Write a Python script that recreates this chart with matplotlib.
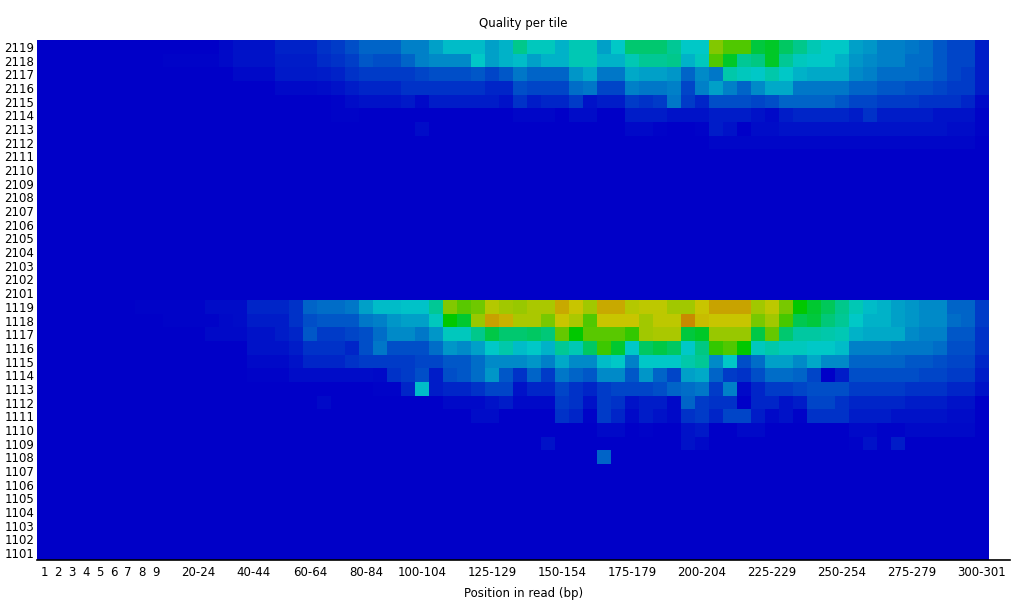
import numpy as np
import matplotlib
matplotlib.use("Agg")
import matplotlib.pyplot as plt
from matplotlib.colors import LinearSegmentedColormap

# column groups along the read (FastQC style bins)
groups = [str(i) for i in range(1, 10)] + [f"{s}-{s + 4}" for s in range(10, 300, 5)] + ["300-301"]
shown_labels = ["1", "2", "3", "4", "5", "6", "7", "8", "9", "20-24", "40-44", "60-64",
                "80-84", "100-104", "125-129", "150-154", "175-179", "200-204",
                "225-229", "250-254", "275-279", "300-301"]

# tiles, top to bottom
tiles = list(range(2119, 2100, -1)) + list(range(1119, 1100, -1))

# quality deviation per tile (0 = none), one value per column group
t2119 = [0, 0, 0, 0, 0, 0, 0, 0, 0, 0.3, 0.3, 0.3, 0.3, 1, 2, 2, 2,
         3.5, 3.5, 3.5, 5, 6, 8, 10, 10, 10, 13, 13, 16, 19, 19, 19, 16, 18,
         26, 21, 21, 18, 22, 22, 16, 20, 29, 29, 29, 25, 20, 20, 53, 48, 48,
         34, 36, 30, 26, 22, 20, 20, 16, 15, 13, 13, 12, 11, 9, 7, 7, 3]
t2118 = [0, 0, 0, 0, 0, 0, 0, 0, 0, 0.5, 0.5, 0.5, 0.5, 1, 2, 2, 2,
         3, 3, 3, 4.5, 5, 6.5, 9, 8, 8, 10, 13, 14, 14, 14, 20, 16, 18,
         19, 16, 18, 18, 22, 22, 18, 18, 22, 25, 25, 26, 18, 21, 48, 36, 25,
         27, 36, 25, 21, 20, 20, 18, 15, 14, 13, 13, 11, 11, 9, 7, 7, 3]
t2117 = [0, 0, 0, 0, 0, 0, 0, 0, 0, 0, 0, 0, 0, 0, 1, 1, 1,
         2.5, 2.5, 2.5, 3, 3.5, 5, 6, 6, 6, 6, 7, 8, 8, 8, 9, 7, 9,
         12, 10, 10, 10, 15, 17, 12, 12, 17, 16, 16, 15, 10, 14, 12, 23, 21,
         20, 23, 20, 18, 17, 17, 17, 14, 13, 11, 11, 11, 10, 9, 7, 6, 3]
t2116 = [0, 0, 0, 0, 0, 0, 0, 0, 0, 0, 0, 0, 0, 0, 0, 0, 0,
         1, 1, 1, 1.5, 2, 3, 4, 4, 4, 5, 5, 5, 5, 5, 5, 4, 4,
         8, 7, 7, 7, 11, 12, 7, 7, 13, 12, 12, 13, 7, 13, 16, 13, 10,
         14, 17, 17, 12, 12, 12, 12, 10, 10, 9, 9, 8, 8, 7, 6, 6, 3]
t2115 = [0, 0, 0, 0, 0, 0, 0, 0, 0, 0, 0, 0, 0, 0, 0, 0, 0,
         0, 0, 0, 0, 0.5, 1.5, 2, 2, 2, 2.5, 1, 3, 3, 3, 3, 3, 2,
         5, 3, 4, 4, 6, 2, 3, 3, 6, 5, 6, 12, 6, 4, 8, 8, 8,
         7, 8, 10, 10, 10, 10, 9, 7, 7, 6, 6, 6, 5, 5, 5, 4, 1]
t2114 = [0, 0, 0, 0, 0, 0, 0, 0, 0, 0, 0, 0, 0, 0, 0, 0, 0,
         0, 0, 0, 0, 0.5, 0.5, 0, 0, 0, 0, 0, 0, 0, 0, 0, 0, 0,
         0.8, 0.8, 0.8, 0, 1.5, 1.5, 0, 0, 3, 3, 3, 2, 2, 2, 3, 3, 3,
         2, 1, 3, 4, 4, 4, 4, 3, 5, 3, 3, 3, 3, 2, 2, 2, 0.5]
t2113 = [0, 0, 0, 0, 0, 0, 0, 0, 0, 0, 0, 0, 0, 0, 0, 0, 0,
         0, 0, 0, 0, 0, 0, 0, 0, 0, 0, 1.5, 0, 0, 0, 0, 0, 0,
         0, 0, 0, 0, 0, 0, 0, 0, 1, 1, 0.5, 0, 0, 0.5, 3, 2, 0,
         1.5, 1.5, 2, 2, 2, 2, 2, 2, 2, 2, 2, 2, 2, 2, 1.5, 1.5, 0.5]
t2112 = [0] * 48 + [0.8] * 19 + [0.3]

t1119 = [0, 0, 0, 0, 0, 0, 0, 0.5, 0.5, 0.5, 0.5, 0.5, 1.5, 1.5, 1.5, 4, 4,
         4, 5, 10, 11, 11, 12, 16, 19, 19, 19.5, 19.5, 25, 53, 49, 51, 58, 56,
         55, 57, 57, 63, 60, 56, 63, 63, 58, 59, 59, 56, 56, 60, 63.5, 63.5, 63.5,
         56, 59, 52, 40, 35, 31, 26, 22, 19, 18, 16, 15, 14, 14, 10, 10, 6]
t1118 = [0, 0, 0, 0, 0, 0, 0, 0, 0, 0.5, 0.5, 0.5, 0.5, 1, 1.5, 3, 3,
         3, 5, 8, 9, 9, 9, 12, 13, 15, 16, 16, 21, 40, 35, 55, 64, 62,
         57, 57, 52, 60, 57, 48, 60, 60, 60, 56, 59, 59, 66, 61, 60, 60, 60,
         52, 56, 47, 32, 34, 28, 25, 20, 18, 18, 16, 15, 14, 14, 11, 10, 6]
t1117 = [0, 0, 0, 0, 0, 0, 0, 0, 0, 0, 0, 0, 1, 1, 1, 2, 2,
         3, 4, 9, 6, 6, 7, 8, 11, 14, 14, 12, 15, 21, 21, 26, 33, 29,
         29, 30, 28, 50, 40, 49, 49, 49, 45, 56, 57, 57, 34, 36, 55, 55, 55,
         33, 50, 29, 24, 24, 23, 22, 18, 17, 17, 17, 14, 13, 13, 9, 9, 5]
t1116 = [0, 0, 0, 0, 0, 0, 0, 0, 0, 0, 0, 0, 0, 0, 0, 2, 2,
         2, 3, 5, 5, 5, 4, 8, 12, 8, 8, 8, 11, 15, 14, 16, 20, 23,
         19, 20, 18, 25, 22, 30, 46, 35, 20, 30, 33, 30, 20, 27, 45, 48, 40,
         21, 23, 21, 21, 20, 20, 19, 13, 13, 13, 12, 12, 12, 11, 8, 8, 5]
t1115 = [0, 0, 0, 0, 0, 0, 0, 0, 0, 0, 0, 0, 0, 0, 0, 1, 1,
         1, 2, 4, 4, 4, 5, 6, 6, 6, 6, 7, 7, 9, 9, 11, 14, 14,
         14, 15, 13, 17, 14, 14, 19, 20, 13, 20, 20, 20, 23, 25, 14, 20, 8,
         11, 16, 16, 14, 17, 14, 14, 10, 10, 10, 10, 9, 9, 8, 7, 7, 4]
t1114 = [0, 0, 0, 0, 0, 0, 0, 0, 0, 0, 0, 0, 0, 0, 0, 0.5, 0.5,
         0.5, 1.5, 1.5, 1.5, 1.5, 1.5, 1.5, 1, 5, 6, 8, 3, 8, 9, 11, 15, 9,
         5, 10, 6, 12, 10, 9, 14, 14, 9, 15, 10, 7, 16, 17, 10, 6, 5,
         8, 11, 11, 10, 7, 0, 3, 8, 8, 8, 8, 8, 7, 7, 6, 6, 3]
t1113 = [0, 0, 0, 0, 0, 0, 0, 0, 0, 0, 0, 0, 0, 0, 0, 0, 0,
         0, 0, 0, 0, 0, 0, 0, 0.5, 0.5, 4, 19, 3, 4, 4, 5, 7, 7,
         2, 4, 4, 7, 5, 4, 6, 7, 7, 7, 8, 10, 11, 12, 6, 13, 1,
         4, 6, 6, 7, 8, 8, 8, 6, 6, 6, 6, 5, 5, 5, 4, 4, 2]
t1112 = [0, 0, 0, 0, 0, 0, 0, 0, 0, 0, 0, 0, 0, 0, 0, 0, 0,
         0, 0, 0, 1, 0, 0, 0, 0, 0, 0, 0, 0, 1, 1, 1, 2, 3,
         1, 1, 1, 6, 5, 2, 6, 5, 2, 3, 3, 1, 10, 6, 5, 5, 0,
         4, 4, 2, 3, 7, 7, 5, 4, 4, 4, 4, 3, 3, 3, 2, 2, 0]
t1111 = [0, 0, 0, 0, 0, 0, 0, 0, 0, 0, 0, 0, 0, 0, 0, 0, 0,
         0, 0, 0, 0, 0, 0, 0, 0, 0, 0, 0, 0, 0, 0, 1.5, 1.5, 0,
         0, 0, 0, 5, 4, 0.5, 6, 4, 1, 3, 2, 1, 5, 6, 4, 7, 7,
         3, 1, 2, 0.5, 5, 5, 5, 3, 3, 3, 2, 2, 2, 2, 1.5, 1.5, 0]
t1110 = [0] * 34 + [0, 0, 0, 0, 0, 0, 1, 1, 0, 0.5, 0, 0, 2, 2.5, 0, 0, 1,
                    1, 0, 0, 0, 0, 0, 0, 1, 1, 0.5, 0.5, 1, 1, 1, 1, 1, 0]
t1109 = [0] * 34 + [0, 0, 2, 0, 0, 0, 0, 0, 0, 0, 0, 0, 2, 1, 0, 0, 0,
                    0, 0, 0, 0, 0, 0, 0, 0.5, 2, 0.5, 3, 0, 0, 0, 0, 0, 0]
t1108 = [0] * 40 + [10] + [0] * 27

rows = {2119: t2119, 2118: t2118, 2117: t2117, 2116: t2116, 2115: t2115,
        2114: t2114, 2113: t2113, 2112: t2112, 1119: t1119, 1118: t1118,
        1117: t1117, 1116: t1116, 1115: t1115, 1114: t1114, 1113: t1113,
        1112: t1112, 1111: t1111, 1110: t1110, 1109: t1109, 1108: t1108}

ncol = len(groups)
grid = np.array([rows.get(t, [0] * ncol) for t in tiles], dtype=float)

# FastQC hot/cold gradient: blue -> cyan -> green -> yellow -> red
cmap = LinearSegmentedColormap.from_list(
    "hotcold",
    [(0.0, (0, 0, 200 / 255)), (0.25, (0, 200 / 255, 200 / 255)),
     (0.5, (0, 200 / 255, 0)), (0.75, (200 / 255, 200 / 255, 0)),
     (1.0, (200 / 255, 0, 0))])

fig = plt.figure(figsize=(10.2, 6), dpi=100)
ax = fig.add_axes([37 / 1020, 40 / 600, 973 / 1020, 520 / 600])
ax.imshow(grid, cmap=cmap, vmin=0, vmax=80, extent=(0, ncol, len(tiles), 0),
          aspect="auto", interpolation="nearest")
ax.set_xlim(0, ncol + 1.5)
ax.set_ylim(len(tiles), 0)

xpos = [groups.index(g) + 0.5 for g in shown_labels]
ax.set_xticks(xpos)
ax.set_xticklabels(shown_labels, fontsize=8.5)
ax.set_yticks(np.arange(len(tiles)) + 0.5)
ax.set_yticklabels([str(t) for t in tiles], fontsize=8.5)
ax.tick_params(length=0, pad=4)
ax.tick_params(axis="y", pad=2)

for s in ["top", "right", "left"]:
    ax.spines[s].set_visible(False)
ax.spines["bottom"].set_color("black")
ax.spines["bottom"].set_linewidth(1.2)

ax.set_title("Quality per tile", fontsize=8.5, pad=9)
ax.set_xlabel("Position in read (bp)", fontsize=8.5, labelpad=6)

fig.savefig("out.png", dpi=100, facecolor="white")
